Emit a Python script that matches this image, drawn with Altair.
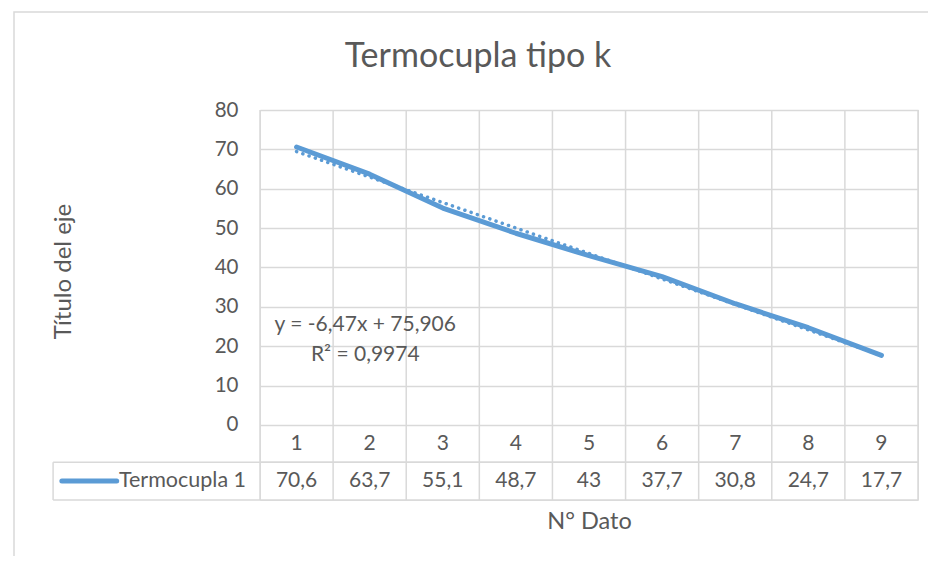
import altair as alt
import pandas as pd

# ---- data ----
categories = [1, 2, 3, 4, 5, 6, 7, 8, 9]
values = [70.6, 63.7, 55.1, 48.7, 43, 37.7, 30.8, 24.7, 17.7]
value_labels = ["70,6", "63,7", "55,1", "48,7", "43", "37,7", "30,8", "24,7", "17,7"]
series_name = "Termocupla 1"
y_ticks = [0, 10, 20, 30, 40, 50, 60, 70, 80]
equation_lines = ["y = -6,47x + 75,906", "R² = 0,9974"]
chart_title = "Termocupla tipo k"

BLUE = "#5B9BD5"
GRID = "#D9D9D9"
TEXT = "#595959"
FONT = "Lato"

# table geometry in data units (below the value axis)
ROW1 = -9.45     # bottom of header row
ROW2 = -19.05    # bottom of data row
LEFT = -2.33     # left edge of the legend cell

df = pd.DataFrame({"n": categories, "t": values, "lab": value_labels})

xs = alt.Scale(domain=[0.5, 9.5], nice=False, zero=False)
ys = alt.Scale(domain=[ROW2, 80], nice=False, zero=False)

base = alt.Chart(df)

# vertical grid / table column lines
bounds = pd.DataFrame({"b": [c - 0.5 for c in categories] + [categories[-1] + 0.5],
                       "y0": ROW2, "y1": 80})
vlines = alt.Chart(bounds).mark_rule(color=GRID, strokeWidth=1.5).encode(
    x=alt.X("b:Q", scale=xs), y=alt.Y("y0:Q", scale=ys), y2="y1:Q")

# horizontal table lines
hl = pd.DataFrame({"x0": [0.5, LEFT, LEFT], "x1": [9.5, 9.5, 9.5], "y": [ROW1, ROW1, ROW2]})
hlines = alt.Chart(hl).mark_rule(color=GRID, strokeWidth=1.5).encode(
    x=alt.X("x0:Q", scale=xs), x2="x1:Q", y=alt.Y("y:Q", scale=ys))
lv = pd.DataFrame({"x": [LEFT], "y0": [ROW2], "y1": [ROW1]})
leftline = alt.Chart(lv).mark_rule(color=GRID, strokeWidth=1.5).encode(
    x=alt.X("x:Q", scale=xs), y=alt.Y("y0:Q", scale=ys), y2="y1:Q")

line = base.mark_line(color=BLUE, strokeWidth=5, strokeCap="round", strokeJoin="round").encode(
    x=alt.X("n:Q", scale=xs,
            axis=alt.Axis(labels=False, ticks=False, domain=False, grid=False,
                          title="N° Dato", titleFont=FONT, titleFontSize=23.5,
                          titleFontWeight="normal", titleColor=TEXT, titlePadding=9)),
    y=alt.Y("t:Q", scale=ys,
            axis=alt.Axis(values=y_ticks, ticks=False, domain=False, grid=True,
                          gridColor=GRID, gridWidth=1.5, labelFont=FONT, labelFontSize=20.5,
                          labelColor=TEXT, labelPadding=22,
                          title="Título del eje", titleFont=FONT, titleFontSize=24,
                          titleFontWeight="normal", titleColor=TEXT,
                          titleX=-197, titleY=161, titleAngle=-90,
                          titleAlign="center", titleBaseline="middle")))

trend = base.transform_regression("n", "t").mark_line(
    color=BLUE, strokeWidth=3.5, strokeDash=[0.1, 6.5], strokeCap="round").encode(
    x=alt.X("n:Q", scale=xs), y=alt.Y("t:Q", scale=ys))

# table text
hdr = base.transform_calculate(yy=str((0 + ROW1) / 2), s="'' + datum.n").mark_text(
    font=FONT, fontSize=21, color=TEXT, baseline="middle").encode(
    x=alt.X("n:Q", scale=xs), y=alt.Y("yy:Q", scale=ys), text="s:N")
vals = base.transform_calculate(yy=str((ROW1 + ROW2) / 2)).mark_text(
    font=FONT, fontSize=21, color=TEXT, baseline="middle").encode(
    x=alt.X("n:Q", scale=xs), y=alt.Y("yy:Q", scale=ys), text="lab:N")

leg = pd.DataFrame({"x0": [-2.21], "x1": [-1.46], "y": [(ROW1 + ROW2) / 2],
                    "tx": [-1.43], "name": [series_name]})
legline = alt.Chart(leg).mark_rule(color=BLUE, strokeWidth=5, strokeCap="round").encode(
    x=alt.X("x0:Q", scale=xs), x2="x1:Q", y=alt.Y("y:Q", scale=ys))
legtext = alt.Chart(leg).mark_text(font=FONT, fontSize=21.5, color=TEXT, align="left",
                                   baseline="middle").encode(
    x=alt.X("tx:Q", scale=xs), y=alt.Y("y:Q", scale=ys), text="name:N")

eq = pd.DataFrame({"x": [1.94, 1.94], "y": [25.4, 17.9], "s": equation_lines})
eqtext = alt.Chart(eq).mark_text(font=FONT, fontSize=21, color=TEXT, baseline="middle").encode(
    x=alt.X("x:Q", scale=xs), y=alt.Y("y:Q", scale=ys), text="s:N")

# chart title and outer border (chart-area decoration)
deco = alt.Chart(pd.DataFrame({"s": [chart_title]}))
title = deco.mark_text(font=FONT, fontSize=34, color=TEXT, baseline="middle").encode(
    x=alt.value(218), y=alt.value(-53), text="s:N")
border = deco.mark_rect(fill=None, stroke=GRID, strokeWidth=1.5).encode(
    x=alt.value(-246), x2=alt.value(680), y=alt.value(-98), y2=alt.value(460))

chart = alt.layer(border, vlines, hlines, leftline, line, trend, hdr, vals,
                  legline, legtext, eqtext, title).properties(
    width=658, height=390,
    autosize="none",
    padding={"left": 252, "top": 102, "right": 10, "bottom": 56},
).configure_view(stroke=None).configure(background="white")

chart.save("out.html", embed_options={"renderer": "svg", "actions": False})
